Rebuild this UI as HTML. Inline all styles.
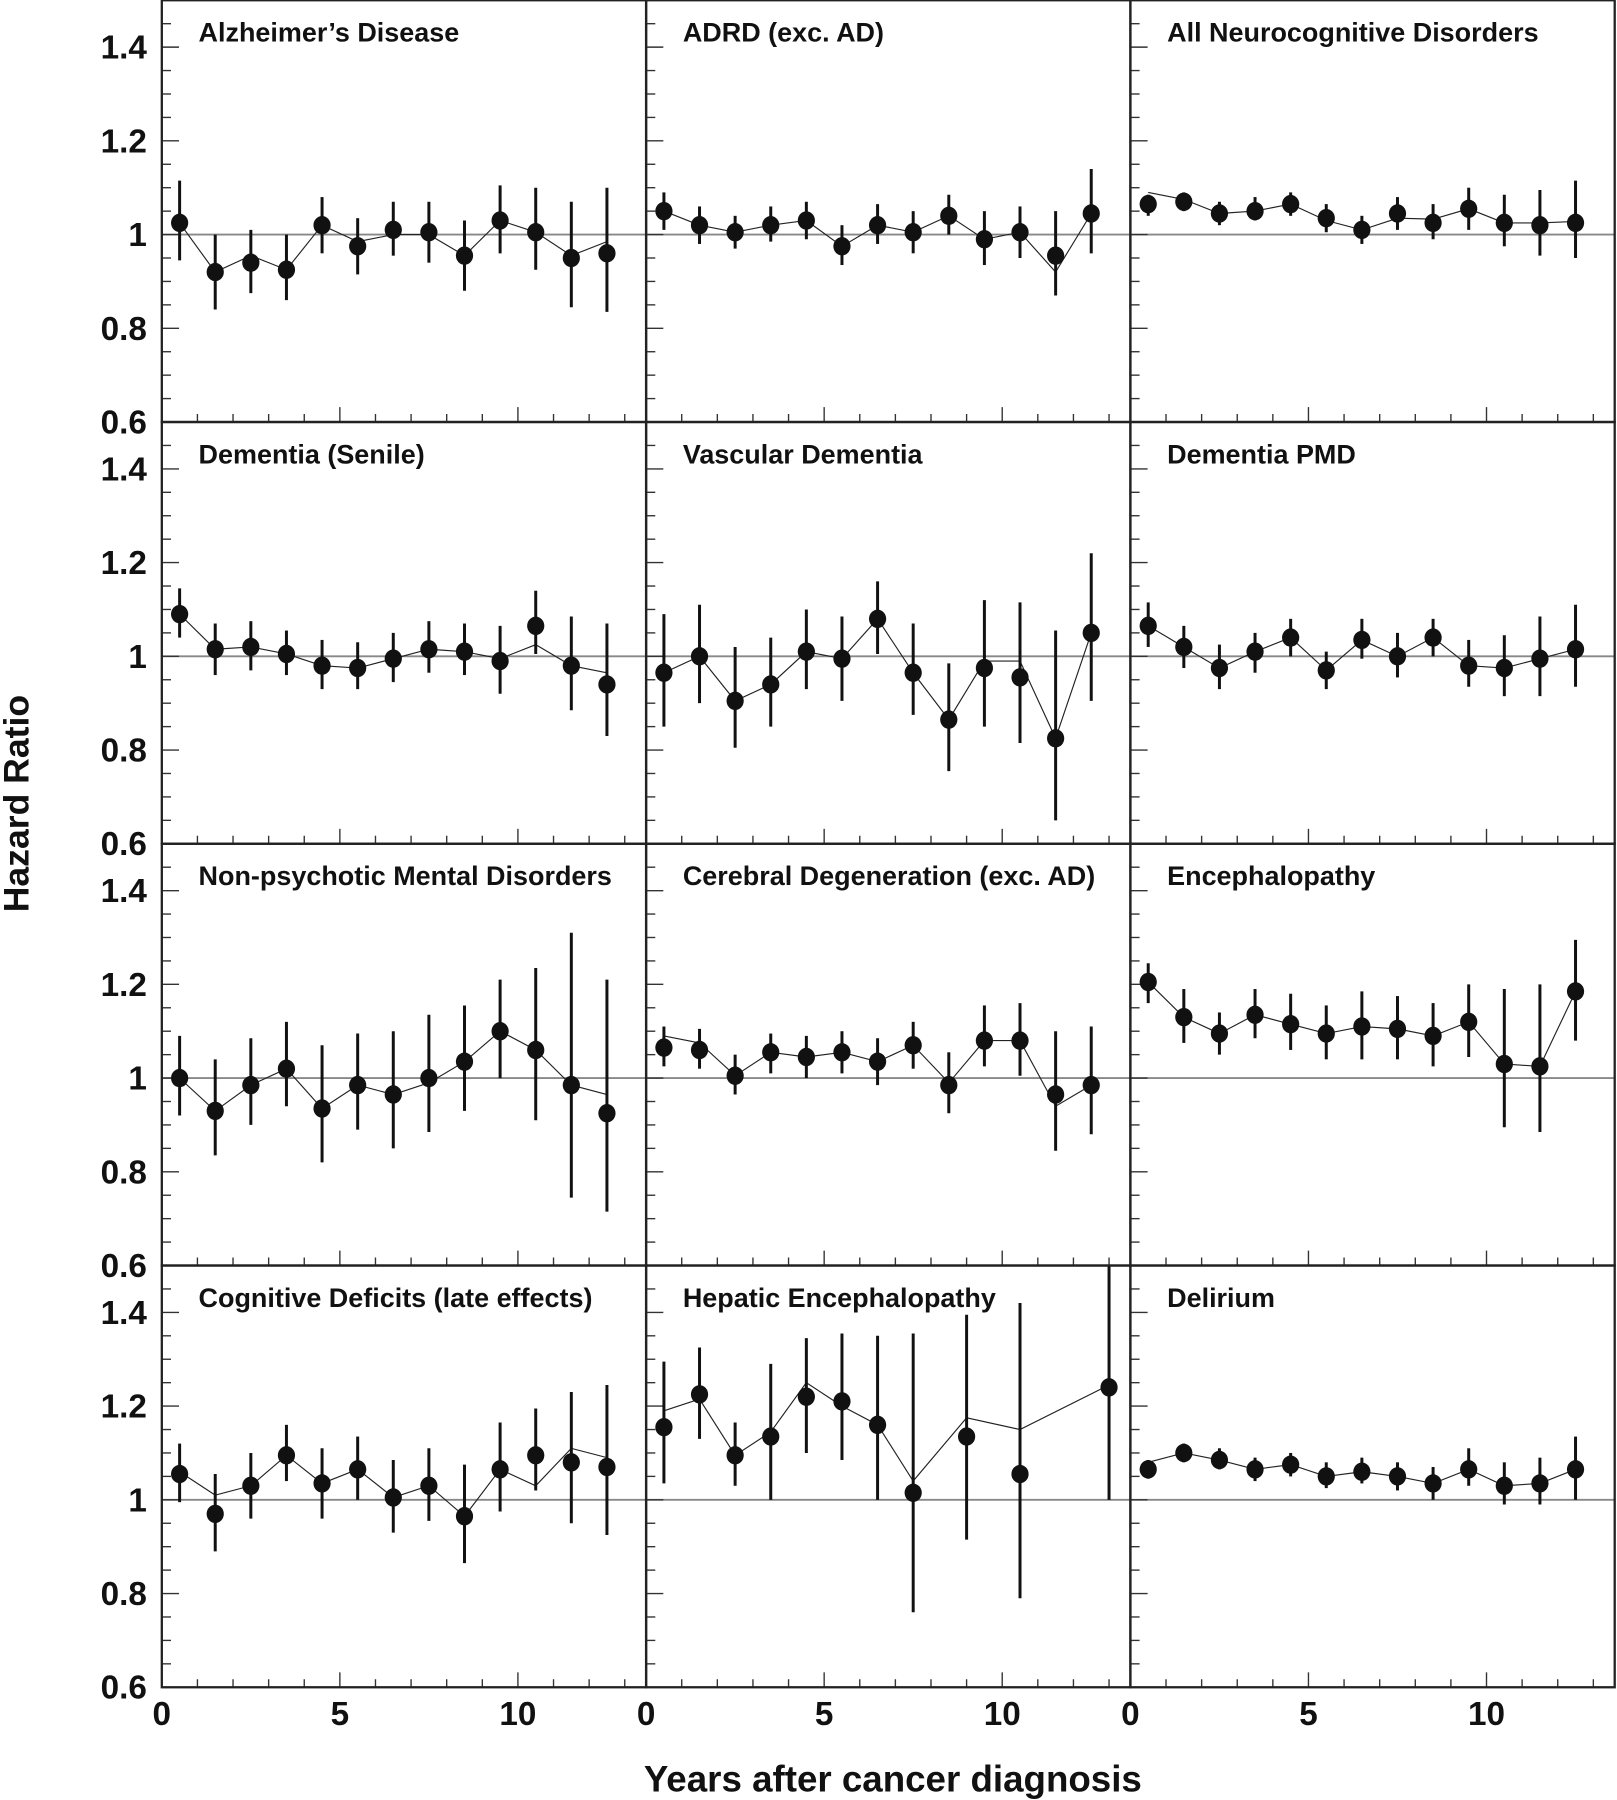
<!DOCTYPE html>
<html><head><meta charset="utf-8"><style>
html,body{margin:0;padding:0;background:#fff;}
svg{display:block;font-family:"Liberation Sans",Arial,sans-serif;}
</style></head><body>
<svg id="chart" width="1617" height="1800" viewBox="0 0 1409 1568" xmlns="http://www.w3.org/2000/svg">
<g id="root"></g>
</svg>
<script>
const titles = ["Alzheimer\u2019s Disease","ADRD (exc. AD)","All Neurocognitive Disorders","Dementia (Senile)","Vascular Dementia","Dementia PMD","Non-psychotic Mental Disorders","Cerebral Degeneration (exc. AD)","Encephalopathy","Cognitive Deficits (late effects)","Hepatic Encephalopathy","Delirium"];
const yearsDefault = [0.5,1.5,2.5,3.5,4.5,5.5,6.5,7.5,8.5,9.5,10.5,11.5,12.5];
const yearsHepatic = [0.5,1.5,2.5,3.5,4.5,5.5,6.5,7.5,9,10.5,13];
const yTicks = [0.6,0.8,1,1.2,1.4];
const yTickLabels = ["0.6","0.8","1","1.2","1.4"];
const xTicks = [0,5,10];
const xTickLabels = ["0","5","10"];

const hr = [
[1.025,0.92,0.94,0.925,1.02,0.975,1.01,1.005,0.955,1.03,1.005,0.95,0.96],
[1.05,1.02,1.005,1.02,1.03,0.975,1.02,1.005,1.04,0.99,1.005,0.955,1.045],
[1.065,1.07,1.045,1.05,1.065,1.035,1.01,1.045,1.025,1.055,1.025,1.02,1.025],
[1.09,1.015,1.02,1.005,0.98,0.975,0.995,1.015,1.01,0.99,1.065,0.98,0.94],
[0.965,1.0,0.905,0.94,1.01,0.995,1.08,0.965,0.865,0.975,0.955,0.825,1.05],
[1.065,1.02,0.975,1.01,1.04,0.97,1.035,1.0,1.04,0.98,0.975,0.995,1.015],
[1.0,0.93,0.985,1.02,0.935,0.985,0.965,1.0,1.035,1.1,1.06,0.985,0.925],
[1.065,1.06,1.005,1.055,1.045,1.055,1.035,1.07,0.985,1.08,1.08,0.965,0.985],
[1.205,1.13,1.095,1.135,1.115,1.095,1.11,1.105,1.09,1.12,1.03,1.025,1.185],
[1.055,0.97,1.03,1.095,1.035,1.065,1.005,1.03,0.965,1.065,1.095,1.08,1.07],
[1.155,1.225,1.095,1.135,1.22,1.21,1.16,1.015,1.135,1.055,1.24],
[1.065,1.1,1.085,1.065,1.075,1.05,1.06,1.05,1.035,1.065,1.03,1.035,1.065]
];
const ciLow = [
[0.945,0.84,0.875,0.86,0.96,0.915,0.955,0.94,0.88,0.96,0.925,0.845,0.835],
[1.01,0.98,0.97,0.985,0.99,0.935,0.98,0.96,1.0,0.935,0.95,0.87,0.96],
[1.04,1.05,1.02,1.03,1.04,1.005,0.98,1.01,0.99,1.01,0.975,0.955,0.95],
[1.04,0.96,0.97,0.96,0.93,0.93,0.945,0.965,0.96,0.92,1.005,0.885,0.83],
[0.85,0.9,0.805,0.85,0.93,0.905,1.005,0.875,0.755,0.85,0.815,0.65,0.905],
[1.02,0.975,0.93,0.965,1.0,0.93,0.995,0.955,1.0,0.935,0.915,0.915,0.935],
[0.92,0.835,0.9,0.94,0.82,0.89,0.85,0.885,0.93,1.0,0.91,0.745,0.715],
[1.025,1.02,0.965,1.01,1.0,1.01,0.985,1.02,0.925,1.025,1.005,0.845,0.88],
[1.16,1.075,1.05,1.085,1.06,1.04,1.04,1.04,1.025,1.045,0.895,0.885,1.08],
[0.995,0.89,0.96,1.04,0.96,1.0,0.93,0.955,0.865,0.975,1.02,0.95,0.925],
[1.035,1.13,1.03,1.0,1.1,1.085,1.0,0.76,0.915,0.79,1.0],
[1.045,1.08,1.065,1.04,1.05,1.025,1.035,1.02,1.0,1.03,0.99,0.99,1.0]
];
const ciHigh = [
[1.115,1.0,1.01,1.0,1.08,1.035,1.07,1.07,1.03,1.105,1.1,1.07,1.1],
[1.09,1.06,1.04,1.06,1.07,1.02,1.065,1.05,1.085,1.05,1.06,1.05,1.14],
[1.085,1.09,1.07,1.08,1.09,1.065,1.04,1.08,1.065,1.1,1.085,1.095,1.115],
[1.145,1.07,1.075,1.055,1.035,1.03,1.05,1.075,1.07,1.065,1.14,1.085,1.07],
[1.09,1.11,1.02,1.04,1.1,1.085,1.16,1.07,0.985,1.12,1.115,1.055,1.22],
[1.115,1.065,1.025,1.05,1.08,1.01,1.08,1.05,1.08,1.035,1.045,1.085,1.11],
[1.09,1.04,1.085,1.12,1.07,1.095,1.1,1.135,1.155,1.21,1.235,1.31,1.21],
[1.11,1.105,1.05,1.095,1.09,1.1,1.085,1.12,1.055,1.155,1.16,1.1,1.11],
[1.245,1.19,1.14,1.19,1.18,1.155,1.185,1.175,1.16,1.2,1.19,1.2,1.295],
[1.12,1.055,1.1,1.16,1.11,1.135,1.085,1.11,1.075,1.165,1.195,1.23,1.245],
[1.295,1.325,1.165,1.29,1.345,1.355,1.35,1.355,1.395,1.42,1.5],
[1.085,1.12,1.11,1.09,1.1,1.08,1.09,1.08,1.07,1.11,1.08,1.09,1.135]
];
const fitted = [
[1.025,0.92,0.955,0.925,1.02,0.985,1.0,1.0,0.955,1.03,1.005,0.955,0.985],
[1.05,1.02,1.005,1.02,1.03,0.975,1.02,1.005,1.04,0.99,1.005,0.92,1.045],
[1.09,1.075,1.045,1.05,1.065,1.03,1.01,1.035,1.033,1.055,1.025,1.025,1.028],
[1.09,1.015,1.02,1.005,0.98,0.975,0.995,1.015,1.01,0.995,1.025,0.98,0.965],
[0.965,1.0,0.905,0.94,1.01,0.995,1.08,0.965,0.865,0.99,0.99,0.825,1.05],
[1.065,1.02,0.975,1.01,1.04,0.97,1.035,1.0,1.04,0.98,0.975,0.995,1.015],
[1.0,0.93,0.985,1.02,0.935,0.985,0.965,0.99,1.035,1.1,1.06,0.985,0.965],
[1.09,1.075,1.005,1.055,1.045,1.055,1.035,1.07,0.99,1.08,1.08,0.94,0.985],
[1.205,1.13,1.095,1.135,1.115,1.095,1.11,1.105,1.09,1.12,1.03,1.025,1.185],
[1.06,1.01,1.03,1.095,1.035,1.065,1.005,1.03,0.965,1.065,1.03,1.11,1.09],
[1.19,1.215,1.095,1.145,1.25,1.2,1.16,1.04,1.175,1.15,1.245],
[1.08,1.1,1.085,1.065,1.075,1.05,1.06,1.05,1.035,1.065,1.03,1.035,1.065]
];

const NS = "http://www.w3.org/2000/svg";
const root = document.getElementById("root");
const X0 = 141, PW = 422, Y0 = 0, PH = 367.5, XMAX = 13.6, YMIN = 0.6, YMAX = 1.5;
function mk(tag, attrs, parent){const e=document.createElementNS(NS,tag);for(const k in attrs)e.setAttribute(k,attrs[k]);(parent||root).appendChild(e);return e;}
function sx(col, v){return X0 + col*PW + v/XMAX*PW;}
function sy(row, v){return Y0 + row*PH + (YMAX - v)/(YMAX-YMIN)*PH;}

for (let p=0;p<12;p++){
  const row=Math.floor(p/3), col=p%3;
  const g=mk("g",{});
  
  
  const left=X0+col*PW, top=Y0+row*PH;
  const ref=mk("line",{x1:left,x2:left+PW,y1:sy(row,1),y2:sy(row,1),stroke:"#888",'stroke-width':1.6},g);
  
  
  for(let k=0;k<=18;k++){
    const v=0.6+k*0.05; if(v>1.5+1e-9) break;
    const major=Math.abs(v*10-Math.round(v*10))<1e-6 && Math.round(v*10)%2===0;
    const t=mk("line",{x1:left,x2:left+(major?15:8),y1:sy(row,v),y2:sy(row,v),stroke:"#333",'stroke-width':1.2},g);
    
    
  }
  for(let k=0;k<=13;k++){
    const major=k%5===0;
    const t=mk("line",{x1:sx(col,k),x2:sx(col,k),y1:top+PH,y2:top+PH-(major?13:7),stroke:"#333",'stroke-width':1.2},g);
    
    
  }
  const xs = p===10 ? yearsHepatic : yearsDefault;
  const pts = xs.map((x,i)=>sx(col,x).toFixed(1)+","+sy(row,fitted[p][i]).toFixed(1)).join(" ");
  const fl=mk("polyline",{points:pts,fill:"none",stroke:"#222",'stroke-width':1},g);
  
  
  xs.forEach((x,i)=>{
    const eb=mk("line",{x1:sx(col,x),x2:sx(col,x),y1:sy(row,Math.min(ciHigh[p][i],1.5)),y2:sy(row,ciLow[p][i]),stroke:"#111",'stroke-width':2.6},g);
    
    
    const c=mk("ellipse",{cx:sx(col,x),cy:sy(row,hr[p][i]),rx:7.5,ry:8,fill:"#111"},g);
    
    
  });
  const tt=mk("text",{x:left+32,y:top+36,'font-size':23.5,'font-weight':'bold',fill:"#111"},g);
  tt.textContent=titles[p];
  
  
  const fr=mk("rect",{x:left,y:top,width:PW,height:PH,fill:"none",stroke:"#222",'stroke-width':2},g);
  
  
  if(col===0){
    yTicks.forEach((v,i)=>{
      const l=mk("text",{x:128,y:sy(row,v)+10,'font-size':29,'font-weight':'bold','text-anchor':'end',fill:"#111"});
      l.textContent=yTickLabels[i];
      
      
    });
  }
  if(row===3){
    xTicks.forEach((v,i)=>{
      const l=mk("text",{x:sx(col,v),y:1503,'font-size':29,'font-weight':'bold','text-anchor':'middle',fill:"#111"});
      l.textContent=xTickLabels[i];
      
      
    });
  }
}
const xt=mk("text",{x:778,y:1561,'font-size':32,'font-weight':'bold','text-anchor':'middle',fill:"#111"});
xt.textContent="Years after cancer diagnosis";


const yt=mk("text",{x:0,y:0,'font-size':31,'font-weight':'bold','text-anchor':'middle',fill:"#111",transform:"translate(25,700) rotate(-90)"});
yt.textContent="Hazard Ratio";


</script>
</body></html>
